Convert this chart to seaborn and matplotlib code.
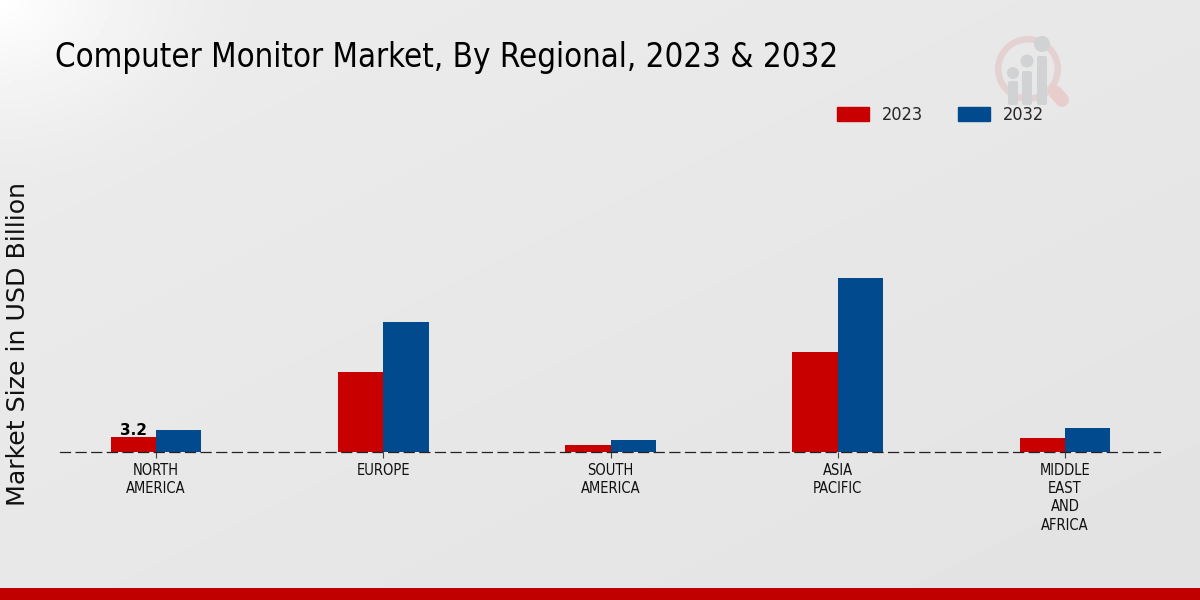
import numpy as np
import pandas as pd
import seaborn as sns
import matplotlib.pyplot as plt
from matplotlib.patches import Circle, FancyBboxPatch, Wedge

# values
regions = ["NORTH\nAMERICA", "EUROPE", "SOUTH\nAMERICA", "ASIA\nPACIFIC", "MIDDLE\nEAST\nAND\nAFRICA"]
values_2023 = [3.2, 17.7, 1.5, 22.2, 3.1]
values_2032 = [4.75, 28.7, 2.5, 38.5, 5.3]
years = ["2023", "2032"]
colors = ["#c80000", "#004a8d"]

df = pd.DataFrame({"region": regions, "2023": values_2023, "2032": values_2032})
df = df.melt(id_vars="region", var_name="year", value_name="size")

sns.set_style("white")
fig = plt.figure(figsize=(12, 6), dpi=100)

# background gradient, white in the top left corner
bg = fig.add_axes([0, 0, 1, 1], zorder=0)
xx, yy = np.meshgrid(np.linspace(0, 1200, 300), np.linspace(0, 600, 150))
dist = np.hypot(xx, yy * 1.3)
grad = 0.925 - 0.035 * np.clip((xx + yy * 2) / 2400, 0, 1) + 0.075 * np.clip(1 - dist / 260, 0, 1) ** 1.5
bg.imshow(grad, cmap="gray", vmin=0, vmax=1, aspect="auto", extent=[0, 1200, 600, 0])
bg.axhspan(588, 600, color="#c00000", lw=0)

# logo
bg.add_patch(Wedge((1028, 69), 33, 0, 360, width=6.5, color="#e4d2d2", lw=0))
bg.plot([1055, 1062], [92, 100], color="#e8cdcd", lw=10, solid_capstyle="round")
for cx, cy, r, top in [(1013, 73, 6, 83), (1027, 61, 6.5, 73), (1042, 44, 8, 58)]:
    bg.add_patch(Circle((cx, cy), r, color="#d0d2d4", lw=0))
    bg.add_patch(FancyBboxPatch((cx - 3, top), 6, 103 - top, boxstyle="round,pad=2", color="#d0d2d4", lw=0))
bg.set_xlim(0, 1200)
bg.set_ylim(600, 0)
bg.axis("off")

# main chart, baseline at y=451.5
ax = fig.add_axes([60 / 1200, (600 - 451.5) / 600, 1100 / 1200, 300 / 600], zorder=1)
ax.patch.set_alpha(0)
sns.barplot(data=df, x="region", y="size", hue="year", hue_order=years, palette=colors,
            width=0.4, saturation=1, linewidth=0, ax=ax, legend=False)
ax.set_xlim(-0.4225, 4.418)
ax.set_ylim(0, 66.7)
ax.set_yticks([])
ax.set_xlabel("")
ax.set_ylabel("")
for side in ["top", "left", "right"]:
    ax.spines[side].set_visible(False)
ax.spines["bottom"].set_linestyle((0, (8, 4.5)))
ax.spines["bottom"].set_linewidth(0.9)
ax.spines["bottom"].set_color("#222222")
ax.spines["bottom"].set_zorder(5)
ax.tick_params(axis="x", length=4, width=0.8, color="#444444", bottom=True, pad=4)
for lab in ax.get_xticklabels():
    lab.set_fontsize(10.5)
    lab.set_stretch("condensed")
    lab.set_color("#111111")
    lab.set_linespacing(1.28)

ax.bar_label(ax.containers[0], labels=["3.2", "", "", "", ""], fontsize=11, fontweight="bold", color="black", padding=-1)

fig.text(55 / 1200, 1 - 58 / 600, "Computer Monitor Market, By Regional, 2023 & 2032", fontsize=23.7, stretch="condensed", va="center", ha="left", color="black", zorder=3)
fig.text(18 / 1200, 1 - 344 / 600, "Market Size in USD Billion", fontsize=18.2, rotation=90, va="center", ha="center", color="#111111", zorder=3)

# legend
handles = [plt.Rectangle((0, 0), 1, 1, color=c) for c in colors]
fig.legend(handles, years, loc="center", bbox_to_anchor=(940.5 / 1200, 1 - 115 / 600), ncol=2, frameon=False,
           handlelength=1.78, handleheight=0.78, columnspacing=1.9, handletextpad=0.72,
           prop={"size": 13, "stretch": "condensed"})

fig.savefig("out.png", dpi=100)
